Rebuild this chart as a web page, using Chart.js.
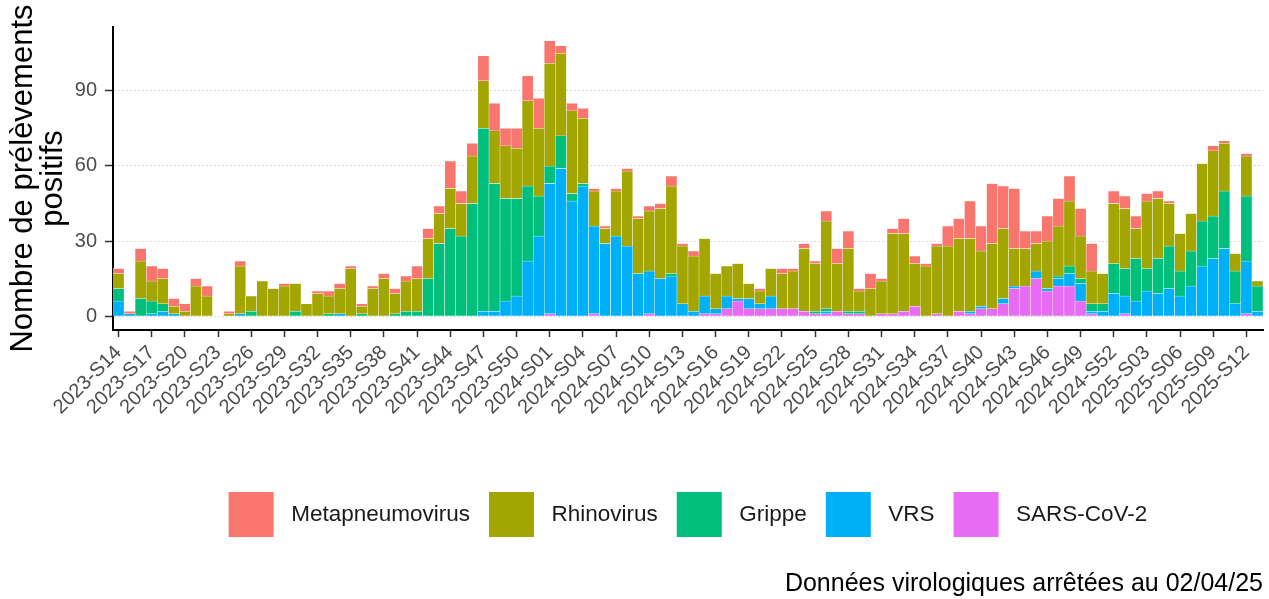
<!DOCTYPE html>
<html lang="fr">
<head>
<meta charset="utf-8">
<title>Prélèvements positifs par semaine</title>
<script src="https://cdn.jsdelivr.net/npm/chart.js@4.4.1/dist/chart.umd.min.js"></script>
<style>
  html, body { margin: 0; padding: 0; background: #fff; }
  #wrap { width: 1269px; height: 599px; }
</style>
</head>
<body>
<div id="wrap"><canvas id="chart"></canvas></div>
<script>
// Semaines ISO (2023-S14 -> 2025-S13)
const weeks = [
  '2023-S14','2023-S15','2023-S16','2023-S17','2023-S18','2023-S19','2023-S20','2023-S21','2023-S22','2023-S23',
  '2023-S24','2023-S25','2023-S26','2023-S27','2023-S28','2023-S29','2023-S30','2023-S31','2023-S32','2023-S33',
  '2023-S34','2023-S35','2023-S36','2023-S37','2023-S38','2023-S39','2023-S40','2023-S41','2023-S42','2023-S43',
  '2023-S44','2023-S45','2023-S46','2023-S47','2023-S48','2023-S49','2023-S50','2023-S51','2023-S52',
  '2024-S01','2024-S02','2024-S03','2024-S04','2024-S05','2024-S06','2024-S07','2024-S08','2024-S09','2024-S10',
  '2024-S11','2024-S12','2024-S13','2024-S14','2024-S15','2024-S16','2024-S17','2024-S18','2024-S19','2024-S20',
  '2024-S21','2024-S22','2024-S23','2024-S24','2024-S25','2024-S26','2024-S27','2024-S28','2024-S29','2024-S30',
  '2024-S31','2024-S32','2024-S33','2024-S34','2024-S35','2024-S36','2024-S37','2024-S38','2024-S39','2024-S40',
  '2024-S41','2024-S42','2024-S43','2024-S44','2024-S45','2024-S46','2024-S47','2024-S48','2024-S49','2024-S50',
  '2024-S51','2024-S52',
  '2025-S01','2025-S02','2025-S03','2025-S04','2025-S05','2025-S06','2025-S07','2025-S08','2025-S09','2025-S10',
  '2025-S11','2025-S12','2025-S13'
];

// one value per week, bottom of the stack first
const sarsCov2 = [
  0,0,0,0,0,0,0,0,0,0, 0,0,0,0,0,0,0,0,0,0, 0,0,0,0,0,0,0,0,0,0, 0,0,0,0,0,0,0,0,0,
  1,0,0,0,1,0,0,0,0,1, 0,0,0,0,1,1,3,6,3,3, 3,3,3,2,1,1,2,1,1,0, 1,1,2,4,0,1,0,2,1,3,
  3,5,11,12,15,10,12,12,6,1, 0,0,
  1,0,0,0,0,0,0,0,0,0, 0,1,0
];
const vrs = [
  6,1,0,1,2,1,0,0,0,0, 0,1,0,0,0,0,0,0,0,0, 1,0,0,0,0,0,0,0,0,0, 0,0,0,2,2,6,8,22,32,
  52,59,46,52,35,29,32,28,17,17, 15,16,5,2,7,2,5,1,4,2, 5,0,0,0,0,1,0,0,0,0, 0,0,0,0,0,0,0,0,1,1,
  0,2,1,0,3,1,3,5,7,1, 2,9,
  7,6,10,9,11,8,12,20,23,27, 5,21,2
];
const grippe = [
  5,0,7,5,3,0,0,0,0,0, 0,0,2,0,0,0,2,0,0,1, 0,0,1,0,0,1,2,2,15,29, 35,32,45,73,51,41,39,30,16,
  7,13,3,1,0,0,0,0,0,0, 0,1,0,0,0,0,0,0,0,0, 0,0,0,0,1,1,0,1,1,0, 0,0,0,0,0,0,0,0,0,0,
  0,0,0,0,0,0,1,3,2,3, 3,12,
  11,17,9,14,17,10,14,18,17,23, 13,26,10
];
const rhinovirus = [
  6,0,15,8,10,3,2,12,8,0, 1,19,6,14,11,12,11,5,9,7, 10,19,3,11,15,8,12,13,16,12, 16,13,19,19,21,21,20,34,27,
  41,33,33,26,14,6,18,30,22,24, 28,35,23,22,23,14,12,14,6,5, 11,14,15,25,19,35,19,25,8,11, 13,32,31,17,20,27,28,29,29,22,
  26,28,15,15,11,19,20,26,17,13, 12,24,
  24,12,27,24,17,15,15,23,26,19, 7,16,2
];
const metapneumovirus = [
  2,1,5,6,4,3,3,3,4,0, 1,2,0,0,0,1,0,0,1,2, 2,1,1,1,2,2,2,5,4,3, 11,5,5,10,11,7,8,10,12,
  9,3,3,4,1,1,1,1,1,2, 2,4,1,2,0,0,0,0,0,1, 0,2,1,2,1,4,6,7,1,6, 1,2,6,3,1,1,8,8,15,10,
  24,17,24,7,5,10,11,10,11,11, 0,5,
  5,5,3,3,1,0,0,0,2,1, 0,1,0
];

const yTicks = [0, 30, 60, 90];
const caption = 'Données virologiques arrêtées au 02/04/25';

const FONT = "'Liberation Sans', Arial, Helvetica, sans-serif";

function bars(label, data, color) {
  return {
    label: label,
    data: data,
    backgroundColor: color,
    borderColor: '#ffffff',
    borderWidth: 0.5,
    barPercentage: 1,
    categoryPercentage: 1
  };
}

new Chart(document.getElementById('chart'), {
  type: 'bar',
  data: {
    labels: weeks,
    datasets: [
      bars('SARS-CoV-2', sarsCov2, '#E76BF3'),
      bars('VRS', vrs, '#00B0F6'),
      bars('Grippe', grippe, '#00BF7D'),
      bars('Rhinovirus', rhinovirus, '#A3A500'),
      bars('Metapneumovirus', metapneumovirus, '#F8766D')
    ]
  },
  options: {
    responsive: true,
    maintainAspectRatio: false,
    animation: false,
    layout: { padding: { top: 27, right: 6, left: 0, bottom: 0 } },
    scales: {
      x: {
        stacked: true,
        offset: true,
        afterFit: (scale) => { scale.height = 143; },
        afterBuildTicks: (scale) => {
          scale.ticks = scale.ticks.filter((t, i) => i % 3 === 0);
        },
        grid: {
          offset: false,
          drawOnChartArea: false,
          drawTicks: true,
          tickLength: 7,
          tickColor: '#333333',
          tickWidth: 1.5
        },
        border: { display: true, color: '#000000', width: 2 },
        ticks: {
          autoSkip: false,
          maxRotation: 45,
          minRotation: 45,
          padding: 4,
          color: '#4d4d4d',
          font: { family: FONT, size: 20 }
        }
      },
      y: {
        stacked: true,
        min: -5.5,
        max: 115.5,
        afterFit: (scale) => { scale.width = 113; },
        afterBuildTicks: (scale) => {
          scale.ticks = yTicks.map(v => ({ value: v }));
        },
        grid: {
          color: '#d9d9d9',
          lineWidth: 1,
          drawTicks: true,
          tickLength: 8,
          tickColor: '#333333',
          tickWidth: 1.5
        },
        border: { display: true, color: '#000000', width: 2, dash: [2, 2] },
        ticks: {
          padding: 8,
          color: '#4d4d4d',
          font: { family: FONT, size: 20 }
        },
        title: {
          display: true,
          text: ['Nombre de prélèvements', 'positifs'],
          color: '#000000',
          font: { family: FONT, size: 31, lineHeight: 0.95 },
          padding: { top: 9, bottom: 0 }
        }
      }
    },
    plugins: {
      legend: {
        position: 'bottom',
        fullSize: false,
        reverse: true,
        labels: {
          boxWidth: 45,
          boxHeight: 45,
          padding: 19,
          color: '#1a1a1a',
          font: { family: FONT, size: 22.5 },
          generateLabels: (chart) => {
            const items = Chart.defaults.plugins.legend.labels.generateLabels(chart);
            return items.map(it => Object.assign(it, { text: ' ' + it.text, lineWidth: 0, strokeStyle: 'rgba(0,0,0,0)' }));
          }
        }
      },
      subtitle: {
        display: true,
        text: caption,
        position: 'bottom',
        align: 'end',
        color: '#000000',
        font: { family: FONT, size: 25, weight: 'normal' },
        padding: { top: 22, bottom: 0 }
      },
      tooltip: { enabled: false }
    }
  }
});
</script>
</body>
</html>
